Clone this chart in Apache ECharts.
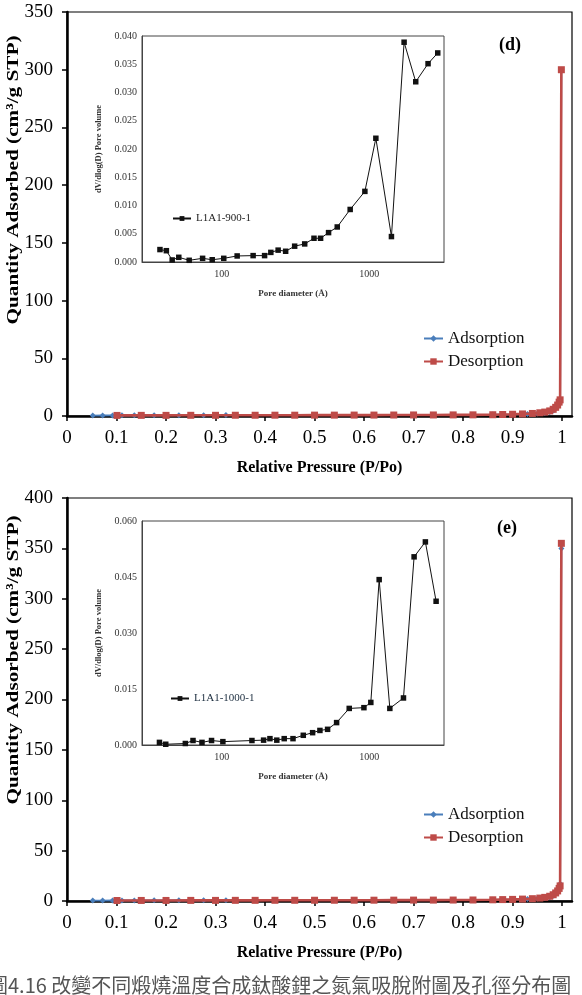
<!DOCTYPE html>
<html>
<head>
<meta charset="utf-8">
<script src="https://cdn.jsdelivr.net/npm/echarts@6/dist/echarts.min.js"></script>
<style>
html, body { margin: 0; padding: 0; background: #fff; }
#chart { width: 582px; height: 995px; }
</style>
</head>
<body>
<div id="chart"></div>
<script>
// ---- panel (d): isotherm ----
const adsX_d = [0.052, 0.072, 0.092, 0.101, 0.111, 0.136, 0.176, 0.226, 0.276, 0.321, 0.50, 0.70, 0.86, 0.90, 0.93, 0.95, 0.965, 0.975, 0.983, 0.99, 0.996, 0.9985];
const adsY_d = [0.4, 0.45, 0.5, 0.5, 0.55, 0.6, 0.65, 0.7, 0.75, 0.8, 0.9, 1.0, 1.2, 1.4, 1.8, 2.2, 2.7, 3.4, 4.8, 7.5, 13, 300];
const desX_d = [0.9985, 0.996, 0.994, 0.991, 0.987, 0.982, 0.975, 0.965, 0.955, 0.94, 0.92, 0.90, 0.88, 0.86, 0.82, 0.78, 0.74, 0.70, 0.66, 0.62, 0.58, 0.54, 0.50, 0.46, 0.42, 0.38, 0.34, 0.30, 0.25, 0.20, 0.15, 0.101];
const desY_d = [300, 14, 12, 9.5, 7.5, 5.8, 4.4, 3.4, 2.8, 2.2, 1.8, 1.5, 1.3, 1.1, 1.0, 0.95, 0.9, 0.9, 0.85, 0.8, 0.8, 0.75, 0.75, 0.7, 0.7, 0.65, 0.65, 0.6, 0.6, 0.55, 0.55, 0.5];

// ---- panel (e): isotherm ----
const adsX_e = [0.052, 0.072, 0.092, 0.101, 0.111, 0.136, 0.176, 0.226, 0.276, 0.321, 0.50, 0.70, 0.86, 0.90, 0.93, 0.95, 0.965, 0.975, 0.983, 0.99, 0.996, 0.9985];
const adsY_e = [0.4, 0.45, 0.5, 0.5, 0.55, 0.6, 0.65, 0.7, 0.75, 0.8, 0.9, 1.0, 1.2, 1.5, 1.9, 2.4, 3.0, 3.8, 5.3, 8.5, 17, 350];
const desX_e = [0.9985, 0.996, 0.994, 0.991, 0.987, 0.982, 0.975, 0.965, 0.955, 0.94, 0.92, 0.90, 0.88, 0.86, 0.82, 0.78, 0.74, 0.70, 0.66, 0.62, 0.58, 0.54, 0.50, 0.46, 0.42, 0.38, 0.34, 0.30, 0.25, 0.20, 0.15, 0.101];
const desY_e = [355, 15, 12.5, 10, 8, 6.2, 4.7, 3.6, 2.9, 2.3, 1.9, 1.6, 1.4, 1.2, 1.0, 0.95, 0.9, 0.9, 0.85, 0.8, 0.8, 0.75, 0.75, 0.7, 0.7, 0.65, 0.65, 0.6, 0.6, 0.55, 0.55, 0.5];

// ---- insets: pore size distribution ----
const poreD_d = [38, 42, 46, 51, 60, 74, 86, 103, 127, 163, 195, 215, 241, 271, 312, 365, 422, 468, 530, 607, 743, 935, 1110, 1416, 1726, 2070, 2510, 2920];
const poreV_d = [0.0022, 0.0020, 0.00036, 0.00083, 0.0003, 0.00065, 0.0004, 0.00065, 0.00107, 0.00113, 0.00113, 0.0017, 0.0021, 0.0019, 0.0028, 0.0032, 0.0042, 0.0042, 0.0052, 0.0062, 0.0093, 0.0125, 0.0219, 0.0045, 0.0389, 0.0319, 0.0351, 0.0370];
const poreD_e = [37.7, 41.6, 56.5, 63.7, 73.3, 85.1, 101.6, 160, 192, 212, 236, 265, 304, 357, 413, 463, 522, 601, 732, 921, 1026, 1169, 1381, 1709, 2018, 2407, 2846];
const poreV_e = [0.0007, 0.0002, 0.0004, 0.0012, 0.0007, 0.0012, 0.0009, 0.0012, 0.0013, 0.0017, 0.0013, 0.0017, 0.0017, 0.0026, 0.0033, 0.0039, 0.0042, 0.0060, 0.0098, 0.0100, 0.0114, 0.0443, 0.0098, 0.0126, 0.0504, 0.0544, 0.0385];

const pairs = (xs, ys) => xs.map((x, i) => [x, ys[i]]);
const serif = '"Liberation Serif", "Times New Roman", serif';
const BLUE = '#4a7ebb', RED = '#be4b48';

function mainX(gi) {
  return {
    gridIndex: gi, type: 'value', min: 0, max: 1.02, interval: 0.1,
    axisLine: { onZero: false, lineStyle: { color: '#000', width: 2.5 } },
    axisTick: { show: true, length: 5, inside: false, lineStyle: { color: '#000', width: 1.5 } },
    axisLabel: {
      fontFamily: serif, fontSize: 19, color: '#000', margin: 13, showMaxLabel: false,
      formatter: v => String(Math.round(v * 10) / 10)
    },
    splitLine: { show: false },
    name: 'Relative Pressure (P/Po)', nameLocation: 'middle', nameGap: 44,
    nameTextStyle: { fontFamily: serif, fontSize: 16, fontWeight: 'bold', color: '#000' }
  };
}
function mainY(gi, max) {
  return {
    gridIndex: gi, type: 'value', min: 0, max: max, interval: 50,
    axisLine: { show: true, onZero: false, lineStyle: { color: '#000', width: 2.5 } },
    axisTick: { show: true, length: 5, lineStyle: { color: '#000', width: 1.5 } },
    axisLabel: { fontFamily: serif, fontSize: 19, color: '#000', margin: 14 },
    splitLine: { show: false }
  };
}
function insetX(gi) {
  return {
    gridIndex: gi, type: 'log', logBase: 10, min: 28.7, max: 3220,
    axisLine: { onZero: false, lineStyle: { color: '#444', width: 1 } },
    axisTick: { show: false },
    axisLabel: {
      fontFamily: serif, fontSize: 10, color: '#333', margin: 7,
      showMinLabel: false, showMaxLabel: false,
      formatter: v => String(Math.round(v))
    },
    splitLine: { show: false },
    name: 'Pore diameter (Å)', nameLocation: 'middle', nameGap: 27,
    nameTextStyle: { fontFamily: serif, fontSize: 9, fontWeight: 'bold', color: '#333' }
  };
}
function insetY(gi, max, step) {
  return {
    gridIndex: gi, type: 'value', min: 0, max: max, interval: step,
    axisLine: { show: true, onZero: false, lineStyle: { color: '#444', width: 1 } },
    axisTick: { show: false },
    axisLabel: { fontFamily: serif, fontSize: 10, color: '#333', margin: 5, formatter: v => v.toFixed(3) },
    splitLine: { show: false },
    name: 'dV/dlog(D) Pore volume', nameLocation: 'middle', nameGap: 31,
    nameTextStyle: { fontFamily: serif, fontSize: 8.5, fontWeight: 'bold', color: '#333' }
  };
}
function isoSeries(gi, name, color, sym, size, width, data, z) {
  return {
    name: name, type: 'line', xAxisIndex: gi, yAxisIndex: gi, data: data,
    symbol: sym, symbolSize: size, showAllSymbol: true, z: z,
    lineStyle: { color: color, width: width }, itemStyle: { color: color }
  };
}
function poreSeries(gi, name, data) {
  return {
    name: name, type: 'line', xAxisIndex: gi, yAxisIndex: gi, data: data,
    symbol: 'rect', symbolSize: 5.5, showAllSymbol: true, z: 5,
    lineStyle: { color: '#111', width: 1 }, itemStyle: { color: '#111' }
  };
}
const legendText = { fontFamily: serif, fontSize: 17, color: '#111' };
const yTitle = 'Quantity Adsorbed (cm³/g STP)';

const chart = echarts.init(document.getElementById('chart'), null, { renderer: 'canvas' });
chart.setOption({
  animation: false,
  backgroundColor: '#fff',
  grid: [
    { left: 67, top: 12, width: 505, height: 404, show: true, borderColor: '#000', borderWidth: 1.2, outerBoundsMode: 'none' },
    { left: 67, top: 498, width: 505, height: 403, show: true, borderColor: '#000', borderWidth: 1.2, outerBoundsMode: 'none' },
    { left: 142, top: 36, width: 302, height: 226, show: true, backgroundColor: '#fff', borderColor: '#444', borderWidth: 1, outerBoundsMode: 'none' },
    { left: 142, top: 521, width: 302, height: 224, show: true, backgroundColor: '#fff', borderColor: '#444', borderWidth: 1, outerBoundsMode: 'none' }
  ],
  xAxis: [mainX(0), mainX(1), insetX(2), insetX(3)],
  yAxis: [mainY(0, 350), mainY(1, 400), insetY(2, 0.04, 0.005), insetY(3, 0.06, 0.015)],
  legend: [
    { data: ['Adsorption', 'Desorption'], orient: 'vertical', left: 423, top: 330, padding: 0, itemWidth: 19, itemHeight: 8, itemGap: 6, textStyle: legendText, selectedMode: false },
    { data: ['Adsorption', 'Desorption'], orient: 'vertical', left: 423, top: 806, padding: 0, itemWidth: 19, itemHeight: 8, itemGap: 6, textStyle: legendText, selectedMode: false },
    { data: ['L1A1-900-1'], left: 172, top: 213, padding: 0, itemWidth: 18, itemHeight: 6, textStyle: { fontFamily: serif, fontSize: 11, color: '#222' }, selectedMode: false },
    { data: ['L1A1-1000-1'], left: 170, top: 693, padding: 0, itemWidth: 18, itemHeight: 6, textStyle: { fontFamily: serif, fontSize: 11, color: '#234' }, selectedMode: false }
  ],
  series: [
    isoSeries(0, 'Adsorption', BLUE, 'diamond', 6, 1.8, pairs(adsX_d, adsY_d), 2),
    isoSeries(0, 'Desorption', RED, 'rect', 7, 2.6, pairs(desX_d, desY_d), 3),
    isoSeries(1, 'Adsorption', BLUE, 'diamond', 6, 1.8, pairs(adsX_e, adsY_e), 2),
    isoSeries(1, 'Desorption', RED, 'rect', 7, 2.6, pairs(desX_e, desY_e), 3),
    poreSeries(2, 'L1A1-900-1', pairs(poreD_d, poreV_d)),
    poreSeries(3, 'L1A1-1000-1', pairs(poreD_e, poreV_e))
  ],
  graphic: [
    { type: 'text', x: 14, y: 180, rotation: Math.PI / 2, scaleX: 1.25, style: { text: yTitle, font: 'bold 17px ' + serif, fill: '#000', textAlign: 'center', textVerticalAlign: 'middle' } },
    { type: 'text', x: 14, y: 660, rotation: Math.PI / 2, scaleX: 1.25, style: { text: yTitle, font: 'bold 17px ' + serif, fill: '#000', textAlign: 'center', textVerticalAlign: 'middle' } },
    { type: 'text', x: 510, y: 45, style: { text: '(d)', font: 'bold 18px ' + serif, fill: '#000', textAlign: 'center', textVerticalAlign: 'middle' } },
    { type: 'text', x: 507, y: 528, style: { text: '(e)', font: 'bold 18px ' + serif, fill: '#000', textAlign: 'center', textVerticalAlign: 'middle' } },
    { type: 'text', x: -12, y: 985, style: { text: '圖4.16 改變不同煅燒溫度合成鈦酸鋰之氮氣吸脫附圖及孔徑分布圖', font: '20px "Noto Sans CJK TC"', fill: '#555', textVerticalAlign: 'middle' } }
  ]
});
</script>
</body>
</html>
